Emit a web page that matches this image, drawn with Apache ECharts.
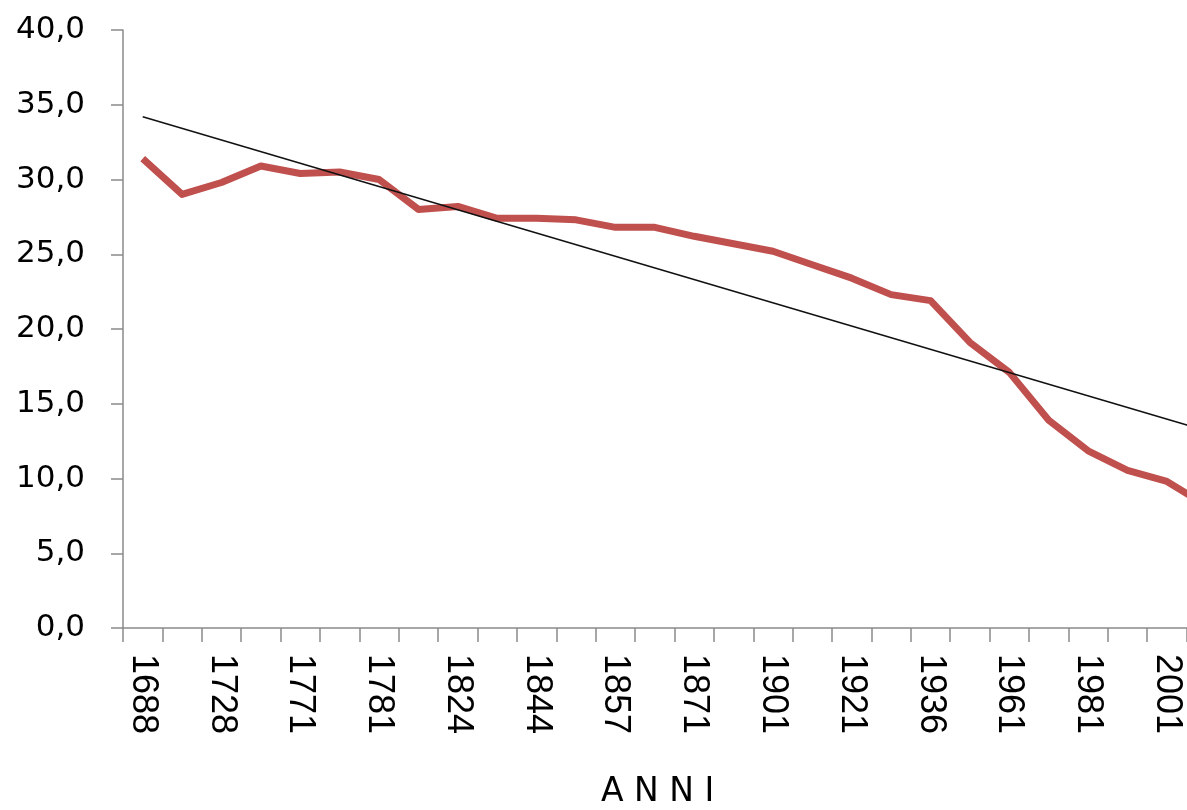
<!DOCTYPE html>
<html>
<head>
<meta charset="utf-8">
<style>
html,body{margin:0;padding:0;background:#fff;overflow:hidden;width:1187px;height:810px;}
#chart{width:1226px;height:810px;}
</style>
<script src="https://cdn.jsdelivr.net/npm/echarts@6/dist/echarts.min.js"></script>
</head>
<body>
<div id="chart"></div>
<script>
// Categories (years); only every other one is labelled in the reference
var years = ['1688','1708','1728','1750','1771','1776','1781','1801','1824','1834','1844','1851','1857','1861','1871','1881','1901','1911','1921','1931','1936','1951','1961','1971','1981','1991','2001','2011'];
// Main series values
var values = [31.4, 29.0, 29.8, 30.9, 30.4, 30.5, 30.0, 28.0, 28.2, 27.4, 27.4, 27.3, 26.8, 26.8, 26.2, 25.7, 25.2, 24.3, 23.4, 22.3, 21.9, 19.1, 17.1, 13.9, 11.85, 10.55, 9.8, 8.2];
// Linear trend line end points
var trendStart = 34.2;
var trendEnd = 13.2;
// Y axis ticks
var yMin = 0, yMax = 40, yStep = 5;
var xTitle = 'A N N I';

var trend = years.map(function (y, i) {
  if (i === 0) return trendStart;
  if (i === years.length - 1) return trendEnd;
  return null;
});

var chart = echarts.init(document.getElementById('chart'));
chart.setOption({
  animation: false,
  backgroundColor: '#ffffff',
  grid: { left: 123, top: 30, right: 0, bottom: 182 },
  xAxis: {
    type: 'category',
    data: years,
    boundaryGap: true,
    axisLine: { lineStyle: { color: '#8a8a8a', width: 1.5 } },
    axisTick: { show: true, interval: 0, length: 14, lineStyle: { color: '#8a8a8a', width: 1.5 } },
    axisLabel: {
      interval: 1,
      rotate: -90,
      margin: 26,
      fontFamily: 'Liberation Sans',
      fontSize: 36,
      color: '#000000'
    },
    splitLine: { show: false }
  },
  yAxis: {
    type: 'value',
    min: yMin,
    max: yMax,
    interval: yStep,
    axisLine: { show: true, lineStyle: { color: '#8a8a8a', width: 1.5 } },
    axisTick: { show: true, length: 12, lineStyle: { color: '#8a8a8a', width: 1.5 } },
    axisLabel: {
      margin: 38,
      fontFamily: 'DejaVu Sans',
      fontSize: 31,
      color: '#000000',
      formatter: function (v) { return v.toFixed(1).replace('.', ','); }
    },
    splitLine: { show: false }
  },
  graphic: [{
    type: 'text',
    left: 601,
    top: 776,
    style: {
      text: xTitle,
      fontFamily: 'DejaVu Sans',
      fontSize: 33,
      fill: '#000000'
    }
  }],
  series: [
    {
      name: 'valori',
      type: 'line',
      data: values,
      showSymbol: false,
      symbol: 'none',
      lineStyle: { color: '#C0504D', width: 7, join: 'round' },
      z: 2
    },
    {
      name: 'tendenza',
      type: 'line',
      data: trend,
      connectNulls: true,
      showSymbol: false,
      symbol: 'none',
      lineStyle: { color: '#111111', width: 1.5 },
      z: 3
    }
  ]
});
</script>
</body>
</html>
